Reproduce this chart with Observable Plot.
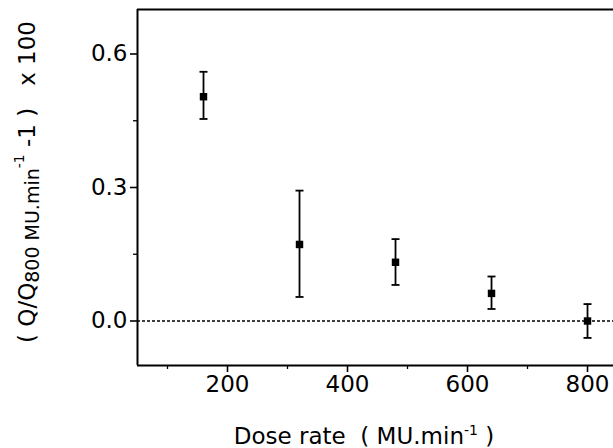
<!DOCTYPE html>
<html>
<head>
<meta charset="utf-8">
<script src="https://cdn.jsdelivr.net/npm/d3@7"></script>
<script src="https://cdn.jsdelivr.net/npm/@observablehq/plot@0.6"></script>
<style>
  html, body { margin: 0; padding: 0; background: #fff; }
  svg { display: block; }
</style>
</head>
<body>
<div id="chart"></div>
<script>
const doseRate = [160, 320, 480, 640, 800];
const value    = [0.504, 0.172, 0.132, 0.062, 0.000];
const errHigh  = [0.560, 0.293, 0.184, 0.100, 0.038];
const errLow   = [0.454, 0.054, 0.081, 0.027, -0.038];
const xTicks = [200, 400, 600, 800];
const xMinor = [100, 300, 500, 700];
const yTicks = [0.0, 0.3, 0.6];
const yMinor = [0.15, 0.45];
const xDomain = [50, 843.3];
const yDomain = [-0.1, 0.7];

const data = doseRate.map((x, i) => ({x, y: value[i], hi: errHigh[i], lo: errLow[i]}));

const capSymbol = {
  draw(ctx, size) {
    const r = Math.sqrt(size / Math.PI);
    ctx.moveTo(-r, 0);
    ctx.lineTo(r, 0);
  }
};

const font = "'DejaVu Sans', sans-serif";

const plot = Plot.plot({
  width: 613,
  height: 448,
  marginLeft: 137,
  marginRight: 0,
  marginTop: 9,
  marginBottom: 83,
  style: {fontFamily: font, fontSize: "23px", color: "#000", background: "#fff"},
  x: {domain: xDomain},
  y: {domain: yDomain},
  marks: [
    Plot.ruleY([0], {stroke: "#000", strokeWidth: 1.4, strokeDasharray: "3,2"}),
    Plot.ruleX(data, {x: "x", y1: "lo", y2: "hi", stroke: "#000", strokeWidth: 1.8}),
    Plot.dot(data, {x: "x", y: "hi", symbol: capSymbol, r: 4, stroke: "#000", strokeWidth: 1.8}),
    Plot.dot(data, {x: "x", y: "lo", symbol: capSymbol, r: 4, stroke: "#000", strokeWidth: 1.8}),
    Plot.dot(data, {x: "x", y: "y", symbol: "square", r: 4.2, fill: "#000", stroke: null}),
    Plot.axisX({ticks: xTicks, tickSize: 7, tickPadding: 3, tickFormat: d3.format("d"), strokeWidth: 1.6, label: null}),
    Plot.axisX({ticks: xMinor, tickSize: 4, tickFormat: () => "", strokeWidth: 1.3, label: null}),
    Plot.axisY({ticks: yTicks, tickSize: 7, tickPadding: 3, tickFormat: d3.format(".1f"), strokeWidth: 1.6, label: null}),
    Plot.axisY({ticks: yMinor, tickSize: 4, tickFormat: () => "", strokeWidth: 1.3, label: null}),
    Plot.ruleX([xDomain[0]], {stroke: "#000", strokeWidth: 2}),
    Plot.ruleY([yDomain[0]], {stroke: "#000", strokeWidth: 2}),
    Plot.ruleY([yDomain[1]], {stroke: "#000", strokeWidth: 2})
  ]
});

const svg = d3.select(plot);
svg.selectAll("g[aria-label$='tick label']").style("font-size", "23px").attr("font-size", 23);

// X axis title
const xt = svg.append("text")
  .attr("x", 364).attr("y", 444)
  .attr("text-anchor", "middle")
  .attr("font-family", font).attr("font-size", 23).attr("fill", "#000");
xt.append("tspan").text("Dose rate  ( MU.min");
xt.append("tspan").attr("dy", -9).attr("font-size", 14).text("-1");
xt.append("tspan").attr("dy", 9).text(" )");

// Y axis title
const yt = svg.append("text")
  .attr("transform", "translate(35,182) rotate(-90)")
  .attr("text-anchor", "middle")
  .attr("font-family", font).attr("font-size", 23).attr("fill", "#000");
yt.append("tspan").text("( Q/Q");
yt.append("tspan").attr("dy", 4).attr("font-size", 19).text("800 MU.min");
yt.append("tspan").attr("dy", -15).attr("font-size", 14).text("-1");
yt.append("tspan").attr("dy", 11).text(" -1 )   x 100");

document.getElementById("chart").appendChild(plot);
</script>
</body>
</html>
